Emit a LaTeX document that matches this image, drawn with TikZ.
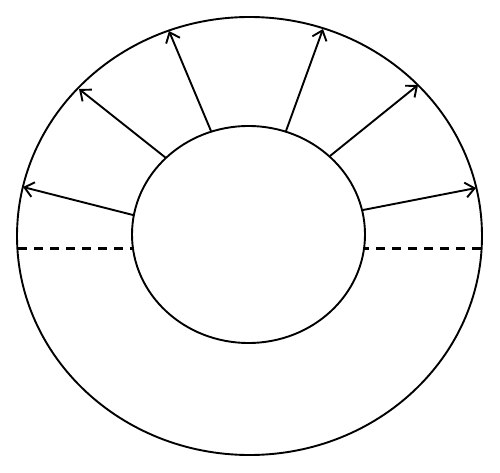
\documentclass[tikz,border=0pt]{standalone}
\usetikzlibrary{arrows.meta}
\begin{document}
\begin{tikzpicture}[x=1pt,y=-1pt,
  ring/.style={line width=1.9pt},
  ray/.style={line width=1.9pt,-{Straight Barb[length=9pt,width=15pt]}},
  cut/.style={line width=2.3pt,dash pattern=on 9pt off 7pt}]
\useasboundingbox (0,0) rectangle (500,473);
\fill[white] (0,0) rectangle (500,473);
% ellipses
\draw[ring] (249.5,236) ellipse [x radius=232.5, y radius=219];
\draw[ring] (248.5,234.5) ellipse [x radius=116.5, y radius=108.5];
% arrow end points
\coordinate (s1) at (133,215); \coordinate (e1) at (23,187);
\coordinate (s2) at (166,158); \coordinate (e2) at (79,89);
\coordinate (s3) at (211,131); \coordinate (e3) at (169,31);
\coordinate (s4) at (286,131); \coordinate (e4) at (323,29);
\coordinate (s5) at (330,156); \coordinate (e5) at (418,85);
\coordinate (s6) at (363,210); \coordinate (e6) at (476,188);
\foreach \i in {1,...,6} \draw[ray] (s\i) -- (e\i);
% dashed cut lines
\coordinate (dl1) at (18,248.5); \coordinate (dl2) at (132.5,248.5);
\coordinate (dr1) at (364.5,248.5); \coordinate (dr2) at (481,248.5);
\draw[cut] (dl1) -- (dl2);
\draw[cut] (dr2) -- (dr1);
\end{tikzpicture}
\end{document}
